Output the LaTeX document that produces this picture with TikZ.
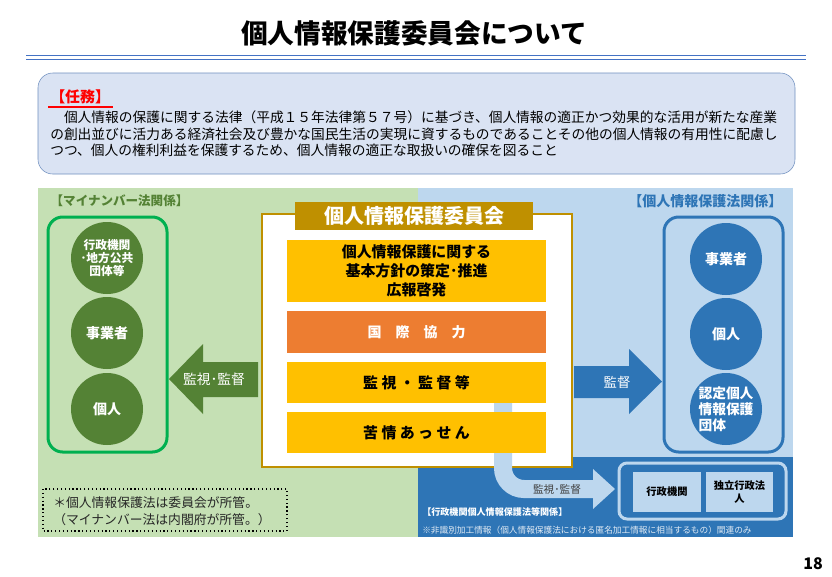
\documentclass[tikz,border=0pt]{standalone}
\usepackage{fontspec}
\setmainfont{Noto Sans CJK JP}

\definecolor{gbg}{HTML}{C5E0B4}
\definecolor{gdark}{HTML}{548235}
\definecolor{gline}{HTML}{00B050}
\definecolor{bbg}{HTML}{BDD7EE}
\definecolor{bdark}{HTML}{2E75B6}
\definecolor{gold}{HTML}{BF9000}
\definecolor{amber}{HTML}{FFC000}
\definecolor{orng}{HTML}{ED7D31}
\definecolor{topfill}{HTML}{DAE3F3}
\definecolor{topln}{HTML}{6F8FBF}
\definecolor{titleln}{HTML}{4472C4}
\definecolor{notegray}{HTML}{262626}

\tikzset{
  gcirc/.style={circle, fill=gdark, minimum size=54pt, inner sep=0pt, text=white, align=center, font=\bfseries\fontsize{10.5}{12}\selectfont},
  bcirc/.style={gcirc, fill=bdark},
  bar/.style={fill=amber, minimum width=194.25pt, inner sep=0pt, align=center, font=\bfseries\fontsize{11.2}{14.25}\selectfont},
  txtline/.style={anchor=west, inner sep=0pt, font=\fontsize{10.3}{12}\selectfont},
  subbox/.style={fill=bbg, minimum height=30pt, inner sep=0pt, align=center, font=\bfseries\fontsize{7.7}{9.7}\selectfont}
}

\begin{document}
\begin{tikzpicture}[x=0.75pt, y=-0.75pt]
    \useasboundingbox (0,0) rectangle (832,576);

    % Title
    \node[font=\bfseries\fontsize{20}{24}\selectfont] (title) at (414,33) {個人情報保護委員会について};
    \draw[titleln, line width=1.1pt] (26,55.5) -- (806,55.5);
    \draw[titleln, line width=1.1pt] (26,59.5) -- (806,59.5);

    % Mission
    \draw[fill=topfill, draw=topln, rounded corners=11pt] (38,73) rectangle (795,174);
    \node[txtline, text=red, font=\bfseries\fontsize{11.2}{13}\selectfont] (duty) at (50,97) {【任務】};
    \draw[red, line width=1.1pt] (48,107) -- (113,107);
    \node[txtline] (l1) at (50,117) {　個人情報の保護に関する法律（平成１５年法律第５７号）に基づき、個人情報の適正かつ効果的な活用が新たな産業};
    \node[txtline] (l2) at (50,134) {の創出並びに活力ある経済社会及び豊かな国民生活の実現に資するものであることその他の個人情報の有用性に配慮し};
    \node[txtline] (l3) at (50,150.5) {つつ、個人の権利利益を保護するため、個人情報の適正な取扱いの確保を図ること};

    % Backgrounds
    \fill[gbg] (38,188) rectangle (418,537);
    \fill[bbg] (418,188) rectangle (793,457);
    \fill[bdark] (418,457) rectangle (793,537);
    \node[anchor=west, text=gdark, font=\bfseries\fontsize{9.4}{11}\selectfont] (mynum) at (46,201) {【マイナンバー法関係】};
    \node[anchor=east, text=bdark, font=\bfseries\fontsize{10.5}{12}\selectfont] (pilaw) at (787,201) {【個人情報保護法関係】};

    % Left and right groups
    \draw[gline, line width=2.25pt, rounded corners=11pt] (48,217) rectangle (167,452);
    \draw[bdark, line width=2.25pt, rounded corners=11pt] (664,217) rectangle (783,452);
    \node[gcirc, font=\bfseries\fontsize{8.8}{10.1}\selectfont] (gov) at (107,258) {行政機関\\･地方公共\\団体等};
    \node[gcirc] (gbiz) at (107,333) {事業者};
    \node[gcirc] (gind) at (107,409) {個人};
    \node[bcirc] (bbiz) at (726,259) {事業者};
    \node[bcirc] (bind) at (726,334) {個人};
    \node[bcirc, align=left, font=\bfseries\fontsize{10.3}{12}\selectfont] (cert) at (726,409) {認定個人\\情報保護\\団体};

    % Commission
    \draw[gold, fill=white, line width=1.5pt] (262,214) rectangle (572,467);
    \draw[bbg, line width=13.5pt, rounded corners=15.75pt] (503,403) -- (503,489) -- (593,489);
    \fill[bbg] (593,469) -- (615,489) -- (593,509) -- cycle;
    \node[bar, minimum height=46.5pt] (plan) at (416.5,271) {個人情報保護に関する\\基本方針の策定･推進\\広報啓発};
    \node[bar, fill=orng, text=white, minimum height=31.5pt, font=\bfseries\fontsize{10.5}{12}\selectfont] (intl) at (416.5,332) {国　際　協　力};
    \node[bar, minimum height=30.75pt] (watch) at (416.5,382.5) {監 視 ・ 監 督 等};
    \node[bar, minimum height=30.75pt] (cmpl) at (416.5,432.5) {苦 情 あ っ せ ん};
    \node[fill=gold, text=white, minimum width=178.5pt, minimum height=21pt, inner sep=0pt, font=\bfseries\fontsize{15}{18}\selectfont] (ppc) at (414,216) {個人情報保護委員会};

    % Arrows
    \fill[gdark] (169,379) -- (203,344) -- (203,362) -- (258,362) -- (258,397) -- (203,397) -- (203,414) -- cycle;
    \node[text=white, font=\fontsize{10.3}{12}\selectfont] (lsup) at (214,379) {監視･監督};
    \fill[bdark] (574,366) -- (629,366) -- (629,349) -- (662,381.5) -- (629,414) -- (629,398) -- (574,398) -- cycle;
    \node[text=white, font=\fontsize{10}{12}\selectfont] (rsup) at (617,382) {監督};
    \node[text=black!75, font=\fontsize{8}{10}\selectfont] (bsup) at (557,489) {監視･監督};

    % Administrative organs
    \draw[bbg, line width=2.25pt, rounded corners=6pt] (619,463) rectangle (786,519);
    \node[subbox, minimum width=51pt] (agency) at (667,492) {行政機関};
    \node[subbox, minimum width=50.25pt] (iai) at (739.5,492) {独立行政法\\人};
    \node[anchor=west, inner sep=0pt, text=white, font=\bfseries\fontsize{6.8}{8}\selectfont] (admlaw) at (422,512) {【行政機関個人情報保護法等関係】};
    \node[anchor=west, inner sep=0pt, text=white!85!bdark, font=\fontsize{6.5}{8}\selectfont] (nonid) at (422,530) {※非識別加工情報（個人情報保護法における匿名加工情報に相当するもの）関連のみ};

    % Note
    \draw[dotted, line width=0.9pt] (43,489) rectangle (287,531);
    \node[anchor=west, align=left, inner sep=0pt, text=notegray, font=\fontsize{9.6}{12.75}\selectfont] (note) at (53,511) {＊個人情報保護法は委員会が所管。\\（マイナンバー法は内閣府が所管。）};

    \node[font=\bfseries\fontsize{12}{14}\selectfont] (pg) at (813,564) {18};
\end{tikzpicture}
\end{document}
